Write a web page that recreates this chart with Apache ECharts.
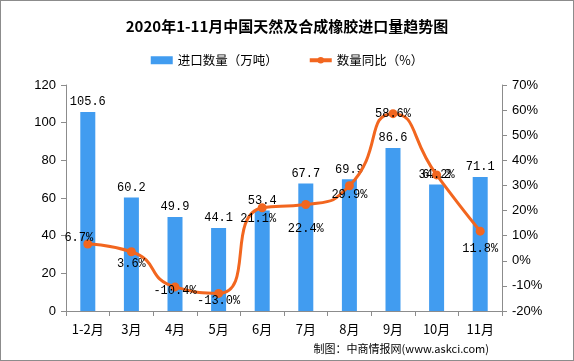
<!DOCTYPE html>
<html><head><meta charset="utf-8">
<script src="https://cdn.jsdelivr.net/npm/echarts@6/dist/echarts.min.js"></script>
<style>html,body{margin:0;padding:0;background:#fff}#c{width:574px;height:361px;box-sizing:border-box;border:1px solid #8c8c8c}</style>
</head><body><div id="c"></div>
<script>
const categories = ['1-2月','3月','4月','5月','6月','7月','8月','9月','10月','11月'];
const importVolume = [105.6, 60.2, 49.9, 44.1, 53.4, 67.7, 69.9, 86.6, 67.2, 71.1];
const yoyGrowth = [6.7, 3.6, -10.4, -13.0, 21.1, 22.4, 29.9, 58.6, 34.2, 11.8];
const leftTicks = {min: 0, max: 120, interval: 20};
const rightTicks = {min: -20, max: 70, interval: 10};

const lblOffsets = [[-9,-6],[0,12],[0,4],[0,7],[-4,11],[0,24],[0,9],[0,0],[0,0],[0,18]];
const font = '"Liberation Mono","DejaVu Sans Mono",monospace';
const chart = echarts.init(document.getElementById('c'));
chart.setOption({
  animation: false,
  title: {text: '2020年1-11月中国天然及合成橡胶进口量趋势图', left: 'center', top: 13,
    textStyle: {fontSize: 15, fontWeight: 'bold', color: '#000', fontFamily: '"Noto Sans CJK SC"'}},
  legend: {top: 48, left: 'center', itemGap: 30, itemWidth: 22, itemHeight: 8,
    textStyle: {fontSize: 12.5, color: '#000', fontFamily: '"Noto Sans CJK SC"'},
    data: [{name: '进口数量（万吨）', icon: 'rect', itemStyle: {color: '#419CF0'}},
           {name: '数量同比（%）', lineStyle: {width: 4}}]},
  grid: {left: 65, right: 71, top: 84, bottom: 49},
  xAxis: {type: 'category', data: categories, boundaryGap: true,
    axisLine: {lineStyle: {color: '#8c8c8c'}},
    axisTick: {show: true, length: 5, lineStyle: {color: '#8c8c8c'}},
    axisLabel: {color: '#000', fontSize: 13, margin: 12, fontFamily: '"Noto Sans CJK SC"'}},
  yAxis: [
    {type: 'value', min: leftTicks.min, max: leftTicks.max, interval: leftTicks.interval,
      axisLine: {show: true, lineStyle: {color: '#8c8c8c'}},
      axisTick: {show: true, length: 5, lineStyle: {color: '#8c8c8c'}},
      splitLine: {show: false},
      axisLabel: {color: '#000', fontSize: 13, margin: 10, fontFamily: '"Liberation Sans"'}},
    {type: 'value', min: rightTicks.min, max: rightTicks.max, interval: rightTicks.interval,
      axisLine: {show: true, lineStyle: {color: '#8c8c8c'}},
      axisTick: {show: true, length: 5, lineStyle: {color: '#8c8c8c'}},
      splitLine: {show: false},
      axisLabel: {color: '#000', fontSize: 13, margin: 10, formatter: '{value}%', fontFamily: '"Liberation Sans"'}}
  ],
  series: [
    {name: '进口数量（万吨）', type: 'bar', data: importVolume, barWidth: 15, yAxisIndex: 0,
      itemStyle: {color: '#419CF0'},
      label: {show: true, position: 'top', color: '#000', fontSize: 12, fontFamily: font, distance: 4,
        formatter: p => p.value.toFixed(1)}},
    {name: '数量同比（%）', type: 'line', yAxisIndex: 1, smooth: 0.6,
      data: yoyGrowth.map((v, i) => ({value: v, label: {offset: lblOffsets[i]}})),
      symbol: 'circle', symbolSize: 9,
      lineStyle: {color: '#F2661F', width: 3}, itemStyle: {color: '#F2661F'},
      label: {show: true, position: 'inside', color: '#000', fontSize: 12, fontFamily: font,
        formatter: p => p.value.toFixed(1) + '%'}}
  ],
  graphic: [{type: 'text', right: 84, bottom: 6,
    style: {text: '制图：中商情报网(www.askci.com)', fontSize: 11, fill: '#000', fontFamily: '"Noto Sans CJK SC"'}}]
});
</script></body></html>
